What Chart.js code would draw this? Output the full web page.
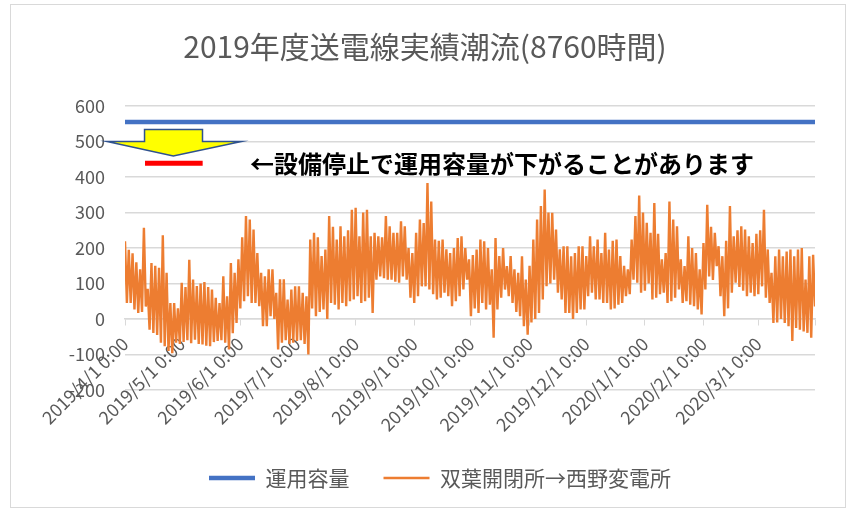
<!DOCTYPE html>
<html><head><meta charset="utf-8">
<script src="https://cdn.jsdelivr.net/npm/chart.js@4.4.1/dist/chart.umd.min.js"></script>
<style>html,body{margin:0;padding:0;background:#fff;}canvas{display:block;}</style>
</head><body>
<canvas id="c" width="850" height="511"></canvas>
<script>
// ---- data ----
const chartTitle = '2019年度送電線実績潮流(8760時間)';
const seriesNames = ['運用容量', '双葉開閉所→西野変電所'];
const monthStartHours = [0, 720, 1464, 2184, 2928, 3672, 4392, 5136, 5856, 6600, 7344, 8040, 8760];
const monthLabels = ['2019/4/1 0:00','2019/5/1 0:00','2019/6/1 0:00','2019/7/1 0:00','2019/8/1 0:00','2019/9/1 0:00',
  '2019/10/1 0:00','2019/11/1 0:00','2019/12/1 0:00','2020/1/1 0:00','2020/2/1 0:00','2020/3/1 0:00',''];
const totalHours = 8760;
const capacityValue = 555;
const binHours = 48; // each read-off pair covers two days: a high then a low
const flowHigh = [
  219,195,185,160,140,257,85,158,150,144,236,130,45,45,30,102,90,167,111,93,
  100,104,90,83,60,45,120,64,158,130,168,230,290,280,252,186,130,120,140,140,
  74,112,112,55,83,92,92,74,64,224,243,230,177,196,290,260,224,261,233,250,
  308,313,233,300,308,233,243,233,230,290,261,243,243,275,261,200,186,243,280,270,
  383,331,224,220,224,196,186,200,228,233,200,168,180,196,224,219,200,140,228,177,
  200,149,177,140,130,177,111,150,224,280,318,365,300,299,252,196,205,205,177,186,
  205,205,177,233,205,224,186,243,196,220,224,177,150,140,224,290,348,300,271,243,
  327,240,168,186,331,280,261,168,149,233,200,186,140,214,322,260,243,205,177,220,
  318,233,250,261,252,233,214,240,250,308,196,130,177,196,177,190,196,177,196,200,
  111,177,181
];
const flowLow = [
  45,45,27,17,20,35,-30,-39,-45,-67,-77,-90,-96,-67,-70,-65,-60,-68,-58,-70,
  -72,-75,-77,-65,-62,-60,-67,-86,-40,-11,30,50,64,45,45,36,-20,-20,8,0,
  -86,-67,-60,-70,-67,-62,-60,-70,-100,30,8,20,27,0,45,40,27,45,36,50,
  55,64,45,50,60,17,111,120,115,111,111,105,102,120,111,60,45,64,92,92,
  83,70,55,60,74,64,36,50,64,83,111,8,30,17,45,27,40,-53,27,60,
  83,64,45,20,8,-20,-44,-10,0,17,55,92,100,111,74,55,17,17,0,17,
  27,27,64,74,55,55,45,45,27,30,40,45,64,70,111,102,74,80,100,55,
  60,70,74,45,50,60,83,45,50,40,36,27,13,83,120,110,149,64,8,30,
  74,102,90,80,64,74,64,70,92,60,45,-11,-10,0,-11,-20,-62,-25,-30,-35,
  -39,-53,35
];
const noteText = '←設備停止で運用容量が下がることがあります';

// ---- annotation geometry, in data units (hours, MW) ----
const arrowShape = {shaftLeft: 248, shaftRight: 984, top: 534, base: 500, wingLeft: -229, wingRight: 1479, tipX: 613, tipY: 459};
const reducedLine = {from: 254, to: 986, value: 439};
const notePos = {x: 1587, y: 437};

// ---- build series ----
const flowData = [];
flowHigh.forEach((h, i) => {
  flowData.push({x: i * binHours, y: h});
  flowData.push({x: i * binHours + binHours / 2, y: flowLow[i]});
});
const capacityData = [{x: 0, y: capacityValue}, {x: totalHours, y: capacityValue}];

const FONT = "'Noto Sans CJK JP','Noto Sans',sans-serif";
Chart.defaults.font.family = FONT;

const decorPlugin = {
  id: 'decor',
  beforeDraw(chart) {
    const c = chart.ctx;
    c.save();
    c.fillStyle = '#ffffff';
    c.fillRect(0, 0, chart.width, chart.height);
    c.strokeStyle = '#d9d9d9';
    c.lineWidth = 1;
    c.strokeRect(10.5, 4.5, 835, 503);
    c.fillStyle = '#595959';
    c.font = '30px ' + FONT;
    c.textAlign = 'center';
    c.textBaseline = 'middle';
    c.fillText(chartTitle, chart.width / 2, 47);
    c.restore();
  },
  afterDatasetsDraw(chart) {
    const xs = chart.scales.x, ys = chart.scales.y;
    const X = v => xs.getPixelForValue(v), Y = v => ys.getPixelForValue(v);
    const c = chart.ctx;
    c.save();
    const a = arrowShape;
    c.beginPath();
    c.moveTo(X(a.shaftLeft), Y(a.top));
    c.lineTo(X(a.shaftRight), Y(a.top));
    c.lineTo(X(a.shaftRight), Y(a.base));
    c.lineTo(X(a.wingRight), Y(a.base));
    c.lineTo(X(a.tipX), Y(a.tipY));
    c.lineTo(X(a.wingLeft), Y(a.base));
    c.lineTo(X(a.shaftLeft), Y(a.base));
    c.closePath();
    c.fillStyle = '#ffff00';
    c.fill();
    c.strokeStyle = '#2f528f';
    c.lineWidth = 1.5;
    c.lineJoin = 'miter';
    c.stroke();
    c.beginPath();
    c.moveTo(X(reducedLine.from), Y(reducedLine.value));
    c.lineTo(X(reducedLine.to), Y(reducedLine.value));
    c.strokeStyle = '#ff0000';
    c.lineWidth = 5;
    c.stroke();
    c.fillStyle = '#000000';
    c.font = 'bold 24px ' + FONT;
    c.textAlign = 'left';
    c.textBaseline = 'middle';
    c.fillText(noteText, X(notePos.x), Y(notePos.y));
    c.restore();
  }
};

new Chart(document.getElementById('c'), {
  type: 'line',
  data: {
    datasets: [
      {label: seriesNames[0], data: capacityData, borderColor: '#4472c4', backgroundColor: '#4472c4',
       borderWidth: 4.5, pointRadius: 0, borderCapStyle: 'round', pointStyle: 'line'},
      {label: seriesNames[1], data: flowData, borderColor: '#ed7d31', backgroundColor: '#ed7d31',
       borderWidth: 2.4, pointRadius: 0, pointStyle: 'line', tension: 0, borderJoinStyle: 'miter'}
    ]
  },
  options: {
    responsive: false, animation: false, devicePixelRatio: 1,
    layout: {padding: {left: 65, right: 35, top: 106, bottom: 12.5}},
    plugins: {
      title: {display: false},
      tooltip: {enabled: false},
      legend: {
        position: 'bottom',
        labels: {usePointStyle: true, pointStyleWidth: 46, font: {size: 21}, color: '#595959', padding: 34},
        title: {display: true, text: '', font: {size: 10}, padding: {top: 0, bottom: 31.5}}
      }
    },
    scales: {
      x: {
        type: 'linear', min: 0, max: totalHours, position: {y: 0},
        afterBuildTicks: s => { s.ticks = monthStartHours.map(v => ({value: v})); },
        afterFit: s => { s.height = 0; s.paddingLeft = 0; s.paddingRight = 0; s.paddingTop = 0; s.paddingBottom = 0; },
        ticks: {autoSkip: false, maxRotation: 45, minRotation: 45, font: {size: 18}, color: '#595959', padding: 8,
                callback: (v, i) => monthLabels[i]},
        grid: {drawOnChartArea: false, drawTicks: true, tickLength: 6, color: '#d9d9d9'},
        border: {display: true, color: '#d9d9d9', width: 1.5}
      },
      y: {
        min: -200, max: 600,
        afterFit: s => { s.width = 60; },
        ticks: {stepSize: 100, font: {size: 18}, color: '#595959', padding: 20},
        grid: {color: '#d9d9d9', drawTicks: false, lineWidth: 1.5},
        border: {display: false}
      }
    }
  },
  plugins: [decorPlugin]
});
</script>
</body></html>
